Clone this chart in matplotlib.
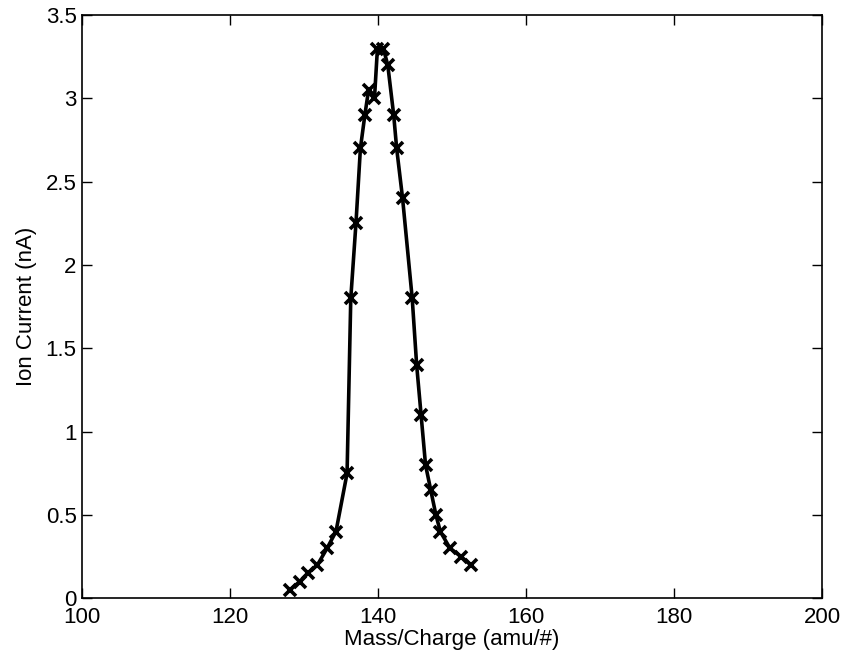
import matplotlib
matplotlib.use("Agg")
import matplotlib.pyplot as plt

mass = [128.1, 129.4, 130.5, 131.8, 133.1, 134.3, 135.8, 136.3, 137.0, 137.6,
        138.2, 138.7, 139.5, 139.9, 140.7, 141.3, 142.1, 142.5, 143.3, 144.6,
        145.2, 145.8, 146.4, 147.1, 147.8, 148.4, 149.7, 151.2, 152.5]
current = [0.05, 0.1, 0.15, 0.2, 0.3, 0.4, 0.75, 1.8, 2.25, 2.7,
           2.9, 3.05, 3.0, 3.3, 3.3, 3.2, 2.9, 2.7, 2.4, 1.8,
           1.4, 1.1, 0.8, 0.65, 0.5, 0.4, 0.3, 0.25, 0.2]
xticks = [100, 120, 140, 160, 180, 200]
yticks = [0, 0.5, 1, 1.5, 2, 2.5, 3, 3.5]
ytick_labels = ["0", "0.5", "1", "1.5", "2", "2.5", "3", "3.5"]

plt.rcParams['font.family'] = ['Liberation Sans', 'DejaVu Sans']

fig = plt.figure(figsize=(8.46, 6.61), dpi=100)
ax = fig.add_axes([0.097, 0.095, 0.875, 0.882])
ax.plot(mass, current, color='black', linewidth=2.6, marker='x',
        markersize=9, markeredgewidth=2.6)
ax.set_xlim(100, 200)
ax.set_ylim(0, 3.5)
ax.set_xticks(xticks)
ax.set_xticklabels([str(t) for t in xticks])
ax.set_yticks(yticks)
ax.set_yticklabels(ytick_labels)
ax.tick_params(direction='in', top=True, right=True, labelsize=16, length=7,
               width=1)
ax.tick_params(axis='x', pad=6)
ax.tick_params(axis='y', pad=4)
for s in ax.spines.values():
    s.set_linewidth(1.2)
ax.set_xlabel('Mass/Charge (amu/#)', fontsize=16, labelpad=1)
ax.set_ylabel('Ion Current (nA)', fontsize=16, labelpad=6)
fig.savefig('out.png', dpi=100)
